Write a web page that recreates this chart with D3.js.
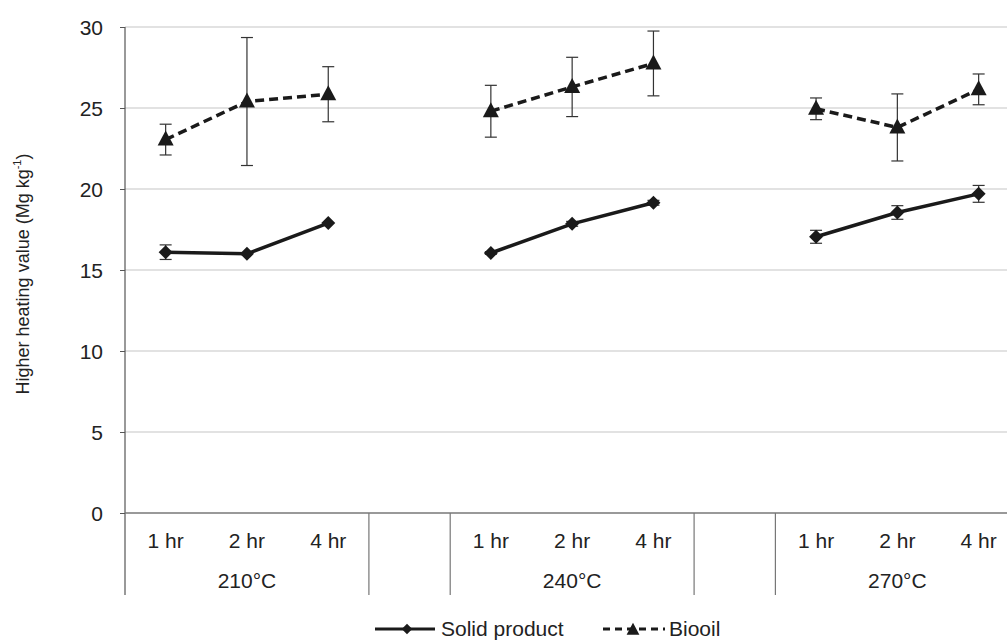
<!DOCTYPE html>
<html>
<head>
<meta charset="utf-8">
<script src="https://cdn.jsdelivr.net/npm/d3@7"></script>
<style>
  body { margin: 0; background: #fff; }
  svg { display: block; font-family: "Liberation Sans", Arial, sans-serif; }
  .tick text { font-size: 21px; fill: #222; }
</style>
</head>
<body>
<div id="chart"></div>
<script>
// data
var groups = ["210°C", "240°C", "270°C"];
var times = ["1 hr", "2 hr", "4 hr"];
var yTicks = [0, 5, 10, 15, 20, 25, 30];
var solid = [16.1, 16.0, 17.9, 16.05, 17.85, 19.15, 17.05, 18.55, 19.7];
var solidErr = [0.45, 0.05, 0.05, 0.08, 0.15, 0.15, 0.4, 0.42, 0.52];
var biooil = [23.05, 25.4, 25.85, 24.8, 26.3, 27.75, 24.95, 23.8, 26.15];
var biooilErr = [0.95, 3.95, 1.7, 1.6, 1.83, 2.0, 0.67, 2.07, 0.95];

var width = 1007, height = 642;
var plotLeft = 125, plotTop = 27, plotBottom = 513;
var slotW = 81.3;

// slots: 3 per group plus an empty slot between groups
var slots = [];
groups.forEach(function (g, gi) {
  times.forEach(function (t) { slots.push(g + "|" + t); });
  if (gi < groups.length - 1) slots.push("gap" + gi);
});

var x = d3.scaleBand().domain(slots).range([plotLeft, plotLeft + slots.length * slotW]);
var y = d3.scaleLinear().domain([0, 30]).range([plotBottom, plotTop]);

var svg = d3.select("#chart").append("svg")
  .attr("width", width).attr("height", height);

// gridlines
svg.append("g").selectAll("line").data(yTicks.slice(1)).enter().append("line")
  .attr("x1", plotLeft).attr("x2", width)
  .attr("y1", function (d) { return y(d); }).attr("y2", function (d) { return y(d); })
  .attr("stroke", "#d9d9d9").attr("stroke-width", 1.3);

// y axis
var yAxis = svg.append("g").attr("transform", "translate(" + plotLeft + ",0)")
  .call(d3.axisLeft(y).tickValues(yTicks).tickSize(5).tickPadding(17));
yAxis.select(".domain").remove();
yAxis.selectAll(".tick line").attr("stroke", "#555");
yAxis.selectAll(".tick text").attr("dy", "0.35em");

svg.append("line").attr("x1", plotLeft).attr("x2", plotLeft).attr("y1", plotTop).attr("y2", 595)
  .attr("stroke", "#555").attr("stroke-width", 1.2);
svg.append("line").attr("x1", plotLeft).attr("x2", width).attr("y1", plotBottom).attr("y2", plotBottom)
  .attr("stroke", "#777").attr("stroke-width", 1.3);

// category separators
var seps = [];
groups.forEach(function (g, gi) {
  if (gi < groups.length - 1) {
    seps.push(x(g + "|" + times[2]) + slotW);
    seps.push(x("gap" + gi) + slotW);
  }
});
svg.append("g").selectAll("line").data(seps).enter().append("line")
  .attr("x1", function (d) { return d; }).attr("x2", function (d) { return d; })
  .attr("y1", plotBottom).attr("y2", 595)
  .attr("stroke", "#777").attr("stroke-width", 1.2);

// time labels
var pts = [];
groups.forEach(function (g) {
  times.forEach(function (t) { pts.push(g + "|" + t); });
});
svg.append("g").selectAll("text").data(pts).enter().append("text")
  .attr("x", function (d) { return x(d) + slotW / 2; })
  .attr("y", 548)
  .attr("text-anchor", "middle").attr("font-size", 21).attr("fill", "#222")
  .text(function (d) { return d.split("|")[1]; });

// group labels
svg.append("g").selectAll("text").data(groups).enter().append("text")
  .attr("x", function (d) { return x(d + "|" + times[1]) + slotW / 2; })
  .attr("y", 588)
  .attr("text-anchor", "middle").attr("font-size", 21).attr("fill", "#222")
  .text(function (d) { return d; });

// axis title
var title = svg.append("text")
  .attr("transform", "translate(29," + ((plotTop + plotBottom) / 2 + 4) + ") rotate(-90)")
  .attr("text-anchor", "middle").attr("font-size", 18).attr("fill", "#222");
title.append("tspan").text("Higher heating value (Mg kg");
title.append("tspan").attr("font-size", 11).attr("dy", -8).text("-1");
title.append("tspan").attr("dy", 8).text(")");

var cx = function (i) { return x(pts[i]) + slotW / 2; };

function drawSeries(vals, errs, dashed, marker) {
  var g = svg.append("g");
  // error bars
  vals.forEach(function (v, i) {
    var e = errs[i];
    if (y(v - e) - y(v + e) < 2) return;
    g.append("line").attr("x1", cx(i)).attr("x2", cx(i))
      .attr("y1", y(v - e)).attr("y2", y(v + e))
      .attr("stroke", "#333").attr("stroke-width", 1.2);
    [v - e, v + e].forEach(function (c) {
      g.append("line").attr("x1", cx(i) - 6).attr("x2", cx(i) + 6)
        .attr("y1", y(c)).attr("y2", y(c))
        .attr("stroke", "#333").attr("stroke-width", 1.2);
    });
  });
  // one line per temperature group
  var line = d3.line().x(function (d) { return cx(d); }).y(function (d) { return y(vals[d]); });
  groups.forEach(function (gr, gi) {
    g.append("path").datum([gi * 3, gi * 3 + 1, gi * 3 + 2])
      .attr("d", line).attr("fill", "none").attr("stroke", "#1a1a1a")
      .attr("stroke-width", 3.5)
      .attr("stroke-dasharray", dashed ? "9,5" : null);
  });
  vals.forEach(function (v, i) {
    drawMarker(g, marker, cx(i), y(v), 1);
  });
}

function drawMarker(g, marker, px, py, s) {
  var d = marker === "diamond" ? "M0,-7L7,0L0,7L-7,0Z" : "M0,-9L8,6L-8,6Z";
  g.append("path")
    .attr("d", d)
    .attr("transform", "translate(" + px + "," + py + ") scale(" + s + ")")
    .attr("fill", "#1a1a1a");
}

drawSeries(solid, solidErr, false, "diamond");
drawSeries(biooil, biooilErr, true, "triangle");

// legend
var lg = svg.append("g");
lg.append("line").attr("x1", 375).attr("x2", 435).attr("y1", 629).attr("y2", 629)
  .attr("stroke", "#1a1a1a").attr("stroke-width", 3);
drawMarker(lg, "diamond", 407, 629, 0.75);
lg.append("text").attr("x", 441).attr("y", 636).attr("font-size", 21).attr("fill", "#222")
  .text("Solid product");
lg.append("line").attr("x1", 603).attr("x2", 665).attr("y1", 629).attr("y2", 629)
  .attr("stroke", "#1a1a1a").attr("stroke-width", 3).attr("stroke-dasharray", "7,5");
drawMarker(lg, "triangle", 633, 630, 0.8);
lg.append("text").attr("x", 669).attr("y", 636).attr("font-size", 21).attr("fill", "#222")
  .text("Biooil");
</script>
</body>
</html>
